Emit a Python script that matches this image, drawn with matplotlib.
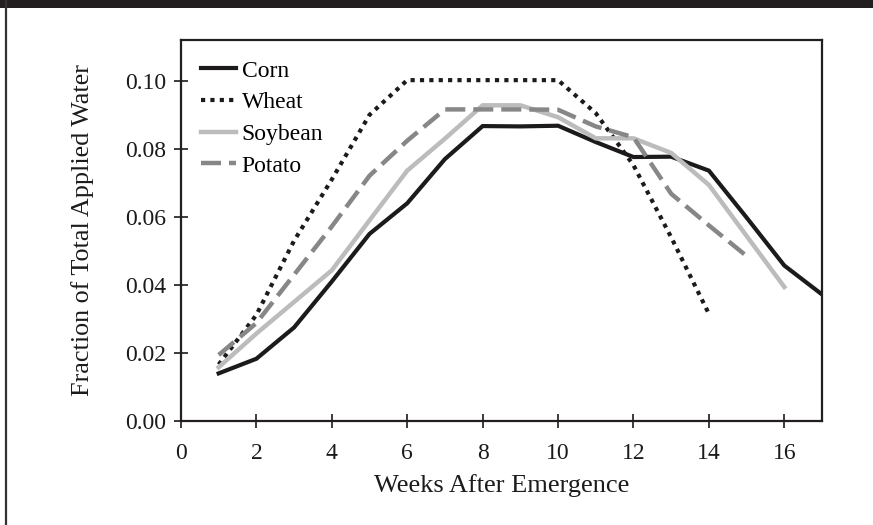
import matplotlib
matplotlib.use('Agg')
import matplotlib.pyplot as plt
from matplotlib.patches import Rectangle
from matplotlib.lines import Line2D

plt.rcParams['font.family'] = ['Liberation Serif', 'DejaVu Serif']

# weekly fraction of total applied water, by crop
corn_weeks = list(range(1, 18))
corn = [0.0140, 0.0183, 0.0275, 0.0410, 0.0550, 0.0640, 0.0770, 0.0867, 0.0866,
        0.0868, 0.0820, 0.0776, 0.0777, 0.0736, 0.0598, 0.0457, 0.0372]

wheat_weeks = list(range(1, 15))
wheat = [0.0166, 0.0312, 0.0530, 0.0710, 0.0900, 0.1002, 0.1002, 0.1002, 0.1002,
         0.1002, 0.0905, 0.0752, 0.0540, 0.0315]

soybean_weeks = list(range(1, 17))
soybean = [0.0158, 0.0257, 0.0350, 0.0443, 0.0590, 0.0736, 0.0830, 0.0928, 0.0928,
           0.0893, 0.0831, 0.0831, 0.0788, 0.0694, 0.0544, 0.0394]

potato_weeks = list(range(1, 16))
potato = [0.0194, 0.0288, 0.0430, 0.0572, 0.0721, 0.0824, 0.0916, 0.0916, 0.0916,
          0.0915, 0.0866, 0.0834, 0.0668, 0.0575, 0.0485]

x_ticks = [0, 2, 4, 6, 8, 10, 12, 14, 16]
y_ticks = [0.00, 0.02, 0.04, 0.06, 0.08, 0.10]

fig = plt.figure(figsize=(8.73, 5.25), dpi=100)
ax = fig.add_axes([0.2073, 0.1981, 0.7343, 0.7257])

ax.plot(corn_weeks, corn, color='#1c1a1a', lw=3.0, solid_joinstyle='miter', label='Corn')
ax.plot(wheat_weeks, wheat, color='#1c1a1a', lw=3.0, dashes=(1.0, 1.25),
        dash_capstyle='butt', label='Wheat')
ax.plot(soybean_weeks, soybean, color='#bcbcbc', lw=3.2, solid_joinstyle='miter',
        label='Soybean')
ax.plot(potato_weeks, potato, color='#878787', lw=3.2, dashes=(4.5, 1.8),
        dash_capstyle='butt', label='Potato')

ax.set_xlim(0, 17)
ax.set_ylim(0, 0.112)
ax.set_xticks(x_ticks)
ax.set_yticks(y_ticks)
ax.set_yticklabels(['%.2f' % v for v in y_ticks])
ax.tick_params(direction='inout', length=9.4, width=1.2, colors='#1c1a1a',
               labelsize=17)
ax.tick_params(axis='x', pad=11)
ax.tick_params(axis='y', pad=6)
for side in ['left', 'bottom', 'top', 'right']:
    ax.spines[side].set_linewidth(1.6)
    ax.spines[side].set_color('#231f20')

ax.set_xlabel('Weeks After Emergence', fontsize=19, color='#1c1a1a', labelpad=7)
ax.set_ylabel('Fraction of Total Applied Water', fontsize=18.8, color='#1c1a1a',
              labelpad=22)

ax.legend(loc='upper left', bbox_to_anchor=(0.0, 1.0), frameon=False, fontsize=17,
          handlelength=1.5, handletextpad=0.22, labelspacing=0.43, borderaxespad=0.45)

# dark band along the top and thin rule down the left edge
fig.patches.append(Rectangle((0, 1 - 8 / 525), 1, 8 / 525, transform=fig.transFigure,
                             facecolor='#231f20', edgecolor='none'))
fig.lines.append(Line2D([6 / 873, 6 / 873], [0, 1], transform=fig.transFigure,
                        color='#333333', lw=1.6))

fig.savefig('out.png', dpi=100)
